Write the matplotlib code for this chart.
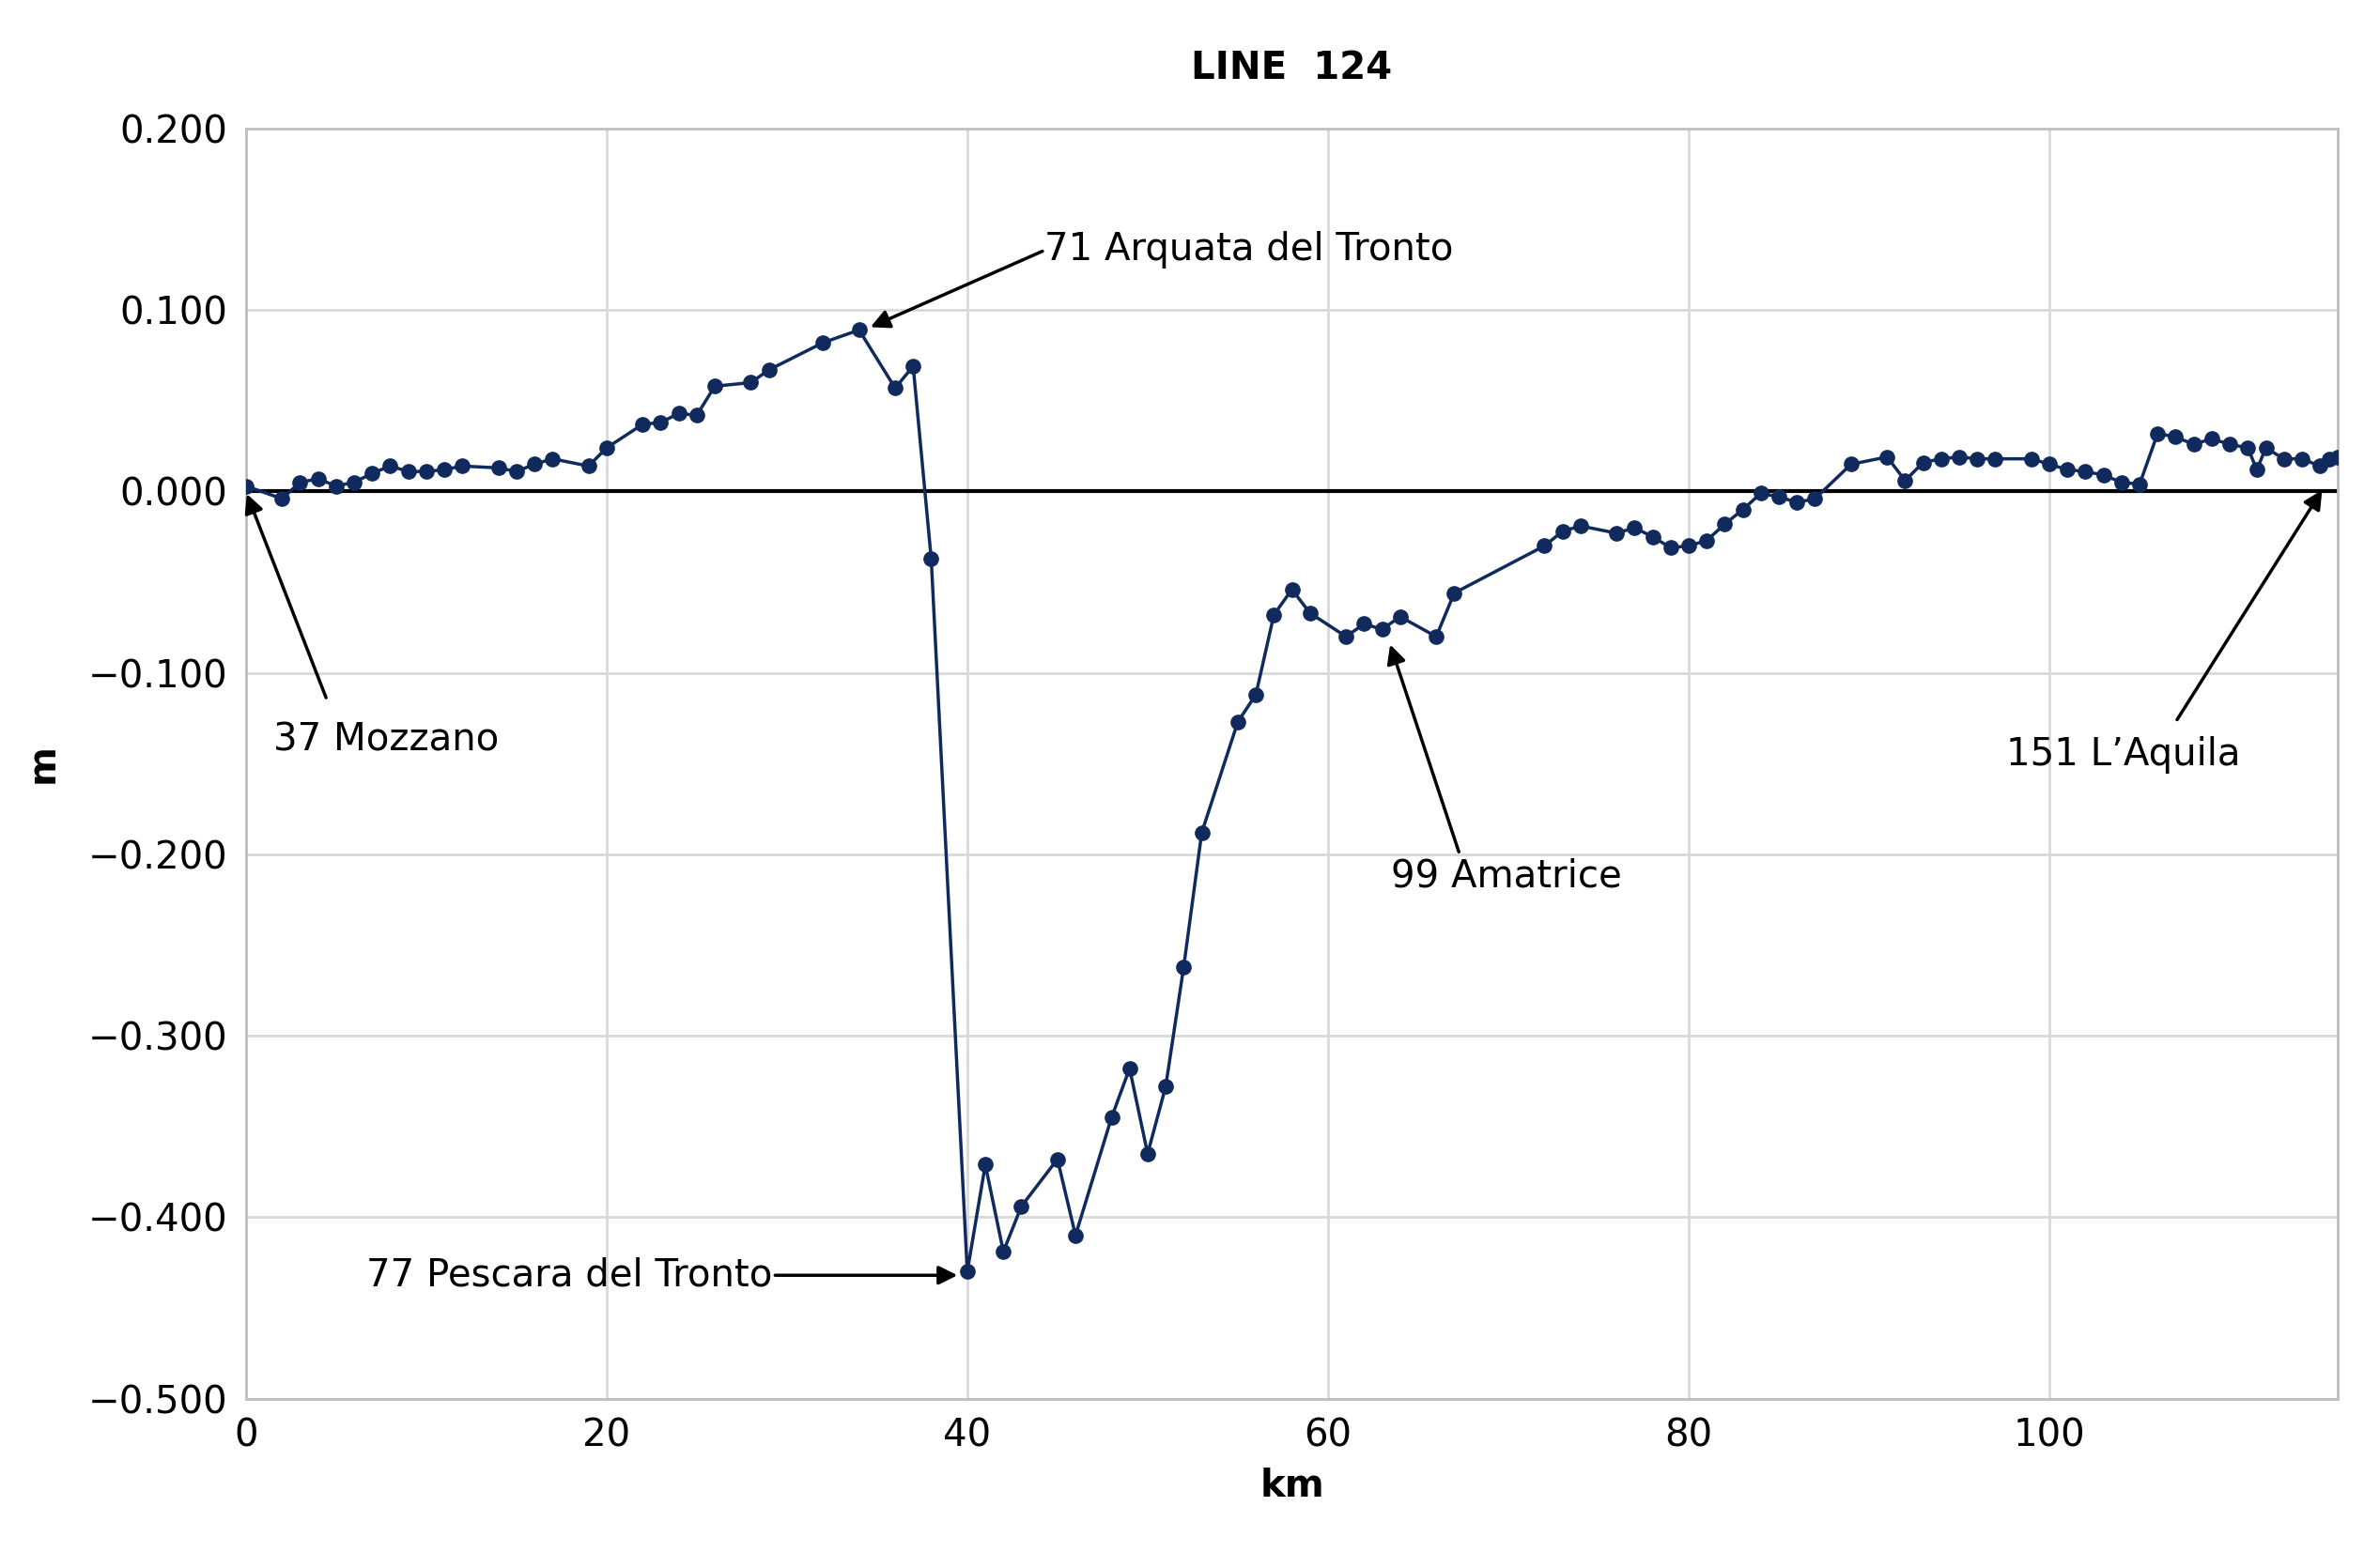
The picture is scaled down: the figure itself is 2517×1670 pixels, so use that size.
import matplotlib.pyplot as plt

# km along line and vertical displacement (m)
km = [0, 2, 3, 4, 5, 6, 7, 8, 9, 10, 11, 12, 14, 15, 16, 17, 19, 20, 22, 23, 24, 25, 26, 28, 29, 32,
      34, 36, 37, 38, 40, 41, 42, 43, 45, 46, 48, 49, 50, 51, 52, 53, 55, 56, 57, 58, 59, 61, 62, 63,
      64, 66, 67, 72, 73, 74, 76, 77, 78, 79, 80, 81, 82, 83, 84, 85, 86, 87, 89, 91, 92, 93, 94, 95,
      96, 97, 99, 100, 101, 102, 103, 104, 105, 106, 107, 108, 109, 110, 111, 111.5, 112, 113, 114,
      115, 115.5, 116]
disp = [0.003, -0.004, 0.005, 0.007, 0.003, 0.005, 0.010, 0.014, 0.011, 0.011, 0.012, 0.014, 0.013,
        0.011, 0.015, 0.018, 0.014, 0.024, 0.037, 0.038, 0.043, 0.042, 0.058, 0.060, 0.067, 0.082,
        0.089, 0.057, 0.069, -0.037, -0.430, -0.371, -0.419, -0.394, -0.368, -0.410, -0.345, -0.318,
        -0.365, -0.328, -0.262, -0.188, -0.127, -0.112, -0.068, -0.054, -0.067, -0.080, -0.073, -0.076,
        -0.069, -0.080, -0.056, -0.030, -0.022, -0.019, -0.023, -0.020, -0.025, -0.031, -0.030, -0.027,
        -0.018, -0.010, -0.001, -0.003, -0.006, -0.004, 0.015, 0.019, 0.006, 0.016, 0.018, 0.019,
        0.018, 0.018, 0.018, 0.015, 0.012, 0.011, 0.009, 0.005, 0.004, 0.032, 0.030, 0.026, 0.029,
        0.026, 0.024, 0.012, 0.024, 0.018, 0.018, 0.014, 0.018, 0.019]

# station labels: text, text position, arrow target
stations = [
    ("37 Mozzano", (1.5, -0.137), (4.5, -0.115), (0, 0.0)),
    ("71 Arquata del Tronto", (44.3, 0.133), (44.3, 0.133), (34.5, 0.090)),
    ("77 Pescara del Tronto", (29.2, -0.432), (29.2, -0.432), (39.6, -0.432)),
    ("99 Amatrice", (63.5, -0.212), (67.3, -0.200), (63.4, -0.083)),
    ("151 L\u2019Aquila", (97.6, -0.145), (107.0, -0.127), (115.2, 0.002)),
]

fig = plt.figure(figsize=(25.17, 16.7), dpi=100)
ax = fig.add_axes([0.104, 0.108, 0.885, 0.81])

ax.plot(km, disp, color='#112a5e', lw=2.5, marker='o', ms=11, zorder=3)
ax.axhline(0, color='black', lw=3, zorder=2)

ax.set_xlim(0, 116)
ax.set_ylim(-0.5, 0.2)
ax.set_xticks(range(0, 101, 20))
ax.set_yticks([0.2, 0.1, 0.0, -0.1, -0.2, -0.3, -0.4, -0.5])
ax.set_yticklabels([f"{v:.3f}".replace('-', '\u2212') for v in ax.get_yticks()])
ax.grid(color='#d9d9d9', lw=2)
ax.set_axisbelow(True)
for s in ax.spines.values():
    s.set_color('#bfbfbf')
    s.set_linewidth(2)
ax.tick_params(length=0, labelsize=29, pad=14)

ax.set_xlabel('km', fontsize=29, fontweight='bold', labelpad=10)
ax.set_ylabel('m', fontsize=29, fontweight='bold', labelpad=20)
ax.set_title('LINE  124', fontsize=29, fontweight='bold', pad=38)

for name, tpos, tail, head in stations:
    ha = 'right' if 'Pescara' in name else 'left'
    ax.text(tpos[0], tpos[1], name, fontsize=29, ha=ha, va='center', zorder=4)
    ax.annotate('', xy=head, xytext=tail,
                arrowprops=dict(arrowstyle='-|>', color='black', lw=2.5, mutation_scale=30), zorder=4)

plt.savefig('out.png', dpi=100)
